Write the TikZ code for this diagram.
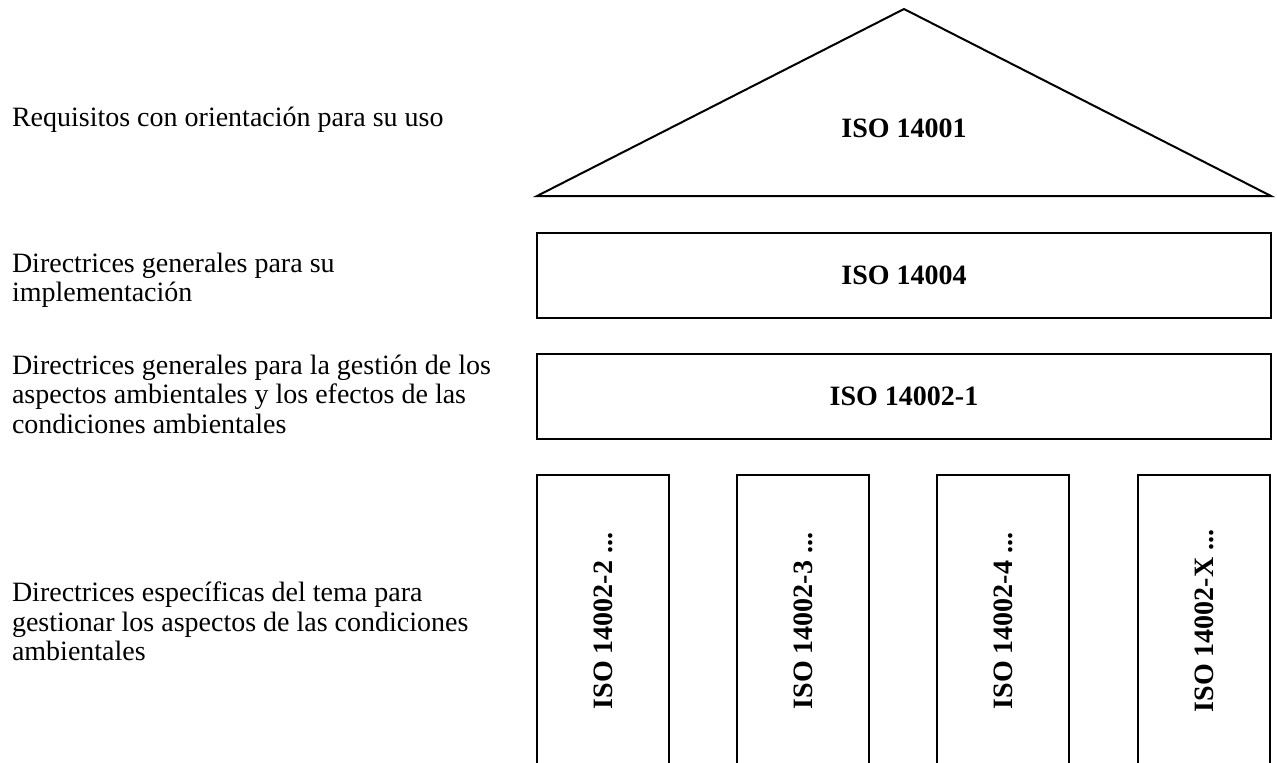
\documentclass[tikz,border=0pt]{standalone}
\usepackage{fontspec}
\setmainfont{Liberation Serif}
\usepackage{tikz}

\begin{document}
\begin{tikzpicture}[x=0.5pt,y=-0.5pt,line width=1pt,
  lbl/.style={anchor=north west,inner sep=0pt,align=left,font=\fontsize{14}{14.75}\selectfont},
  level/.style={draw,minimum width=367pt,minimum height=42.5pt,inner sep=0pt,font=\fontsize{14}{16}\selectfont\bfseries},
  pillar/.style={rotate=90,inner sep=0pt,font=\fontsize{14}{16}\selectfont\bfseries}]

\useasboundingbox (0,0) rectangle (1277,762);

% left column
\node[lbl] (T1) at (11,106) {Requisitos con orientación para su uso};
\node[lbl] (T2) at (11,252) {Directrices generales para su\\implementación};
\node[lbl] (T3) at (11,354) {Directrices generales para la gestión de los\\aspectos ambientales y los efectos de las\\condiciones ambientales};
\node[lbl] (T4) at (11,581) {Directrices específicas del tema para\\gestionar los aspectos de las condiciones\\ambientales};

% roof
\draw[line join=miter] (537,196) -- (904,9) -- (1271,196) -- cycle;
\node[inner sep=0pt,font=\fontsize{14}{16}\selectfont\bfseries] (I1) at (904,128) {ISO 14001};

% levels
\node[level] (I2) at (904,275.5) {ISO 14004};
\node[level] (I3) at (904,396) {ISO 14002-1};

% pillars
\foreach \x/\t in {537/2,737/3,937/4,1138/X}{
  \draw (\x,766) |- ({\x+132},475) -- ({\x+132},766);
  \node[pillar] (P\t) at ({\x+66},621) {ISO 14002-\t\ ...};
}

\end{tikzpicture}
\end{document}
